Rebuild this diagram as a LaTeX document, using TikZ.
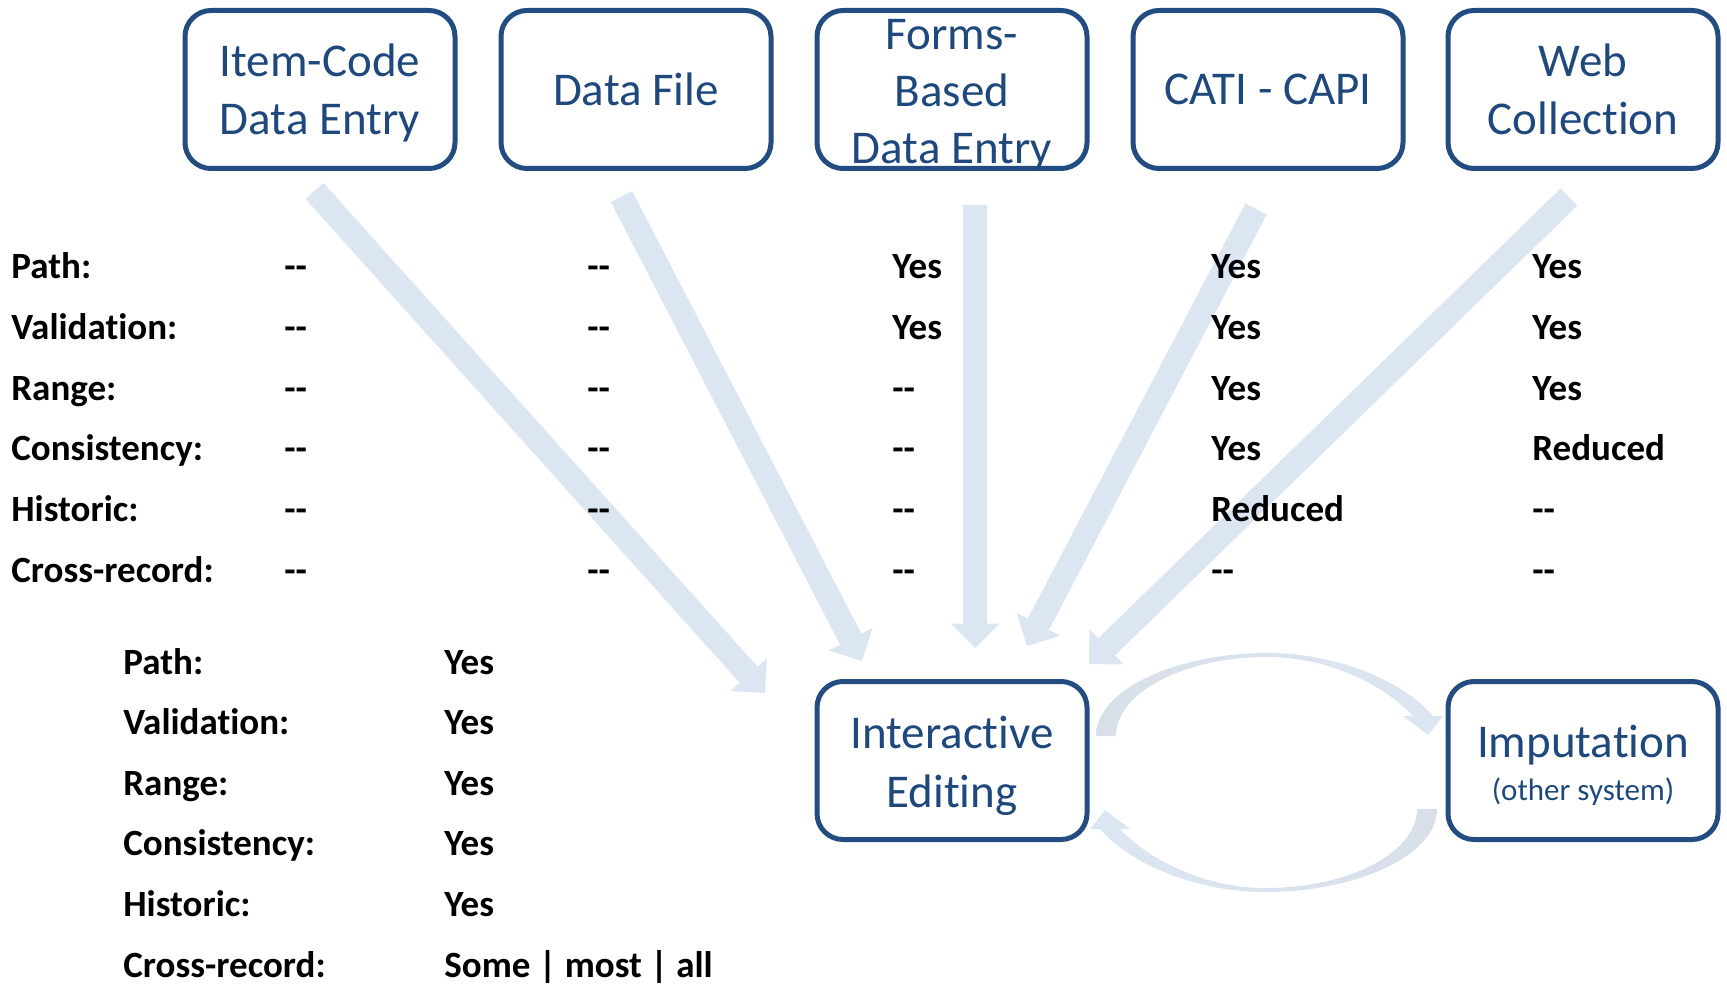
\documentclass[tikz,border=0pt]{standalone}
\usepackage{fontspec}
\setmainfont{Carlito}[Ligatures=NoCommon]
\usetikzlibrary{arrows.meta}
\definecolor{boxline}{HTML}{234C80}
\definecolor{boxtext}{HTML}{1F497D}
\definecolor{arrc}{HTML}{DCE6F2}
\definecolor{arrg}{HTML}{D8DFE9}
\newcommand\dd{\mbox{-}\mbox{-}}
\begin{document}
\begin{tikzpicture}[x=0.5pt,y=-0.5pt,
 srcbox/.style={draw=boxline, line width=2.5pt, rounded corners=13pt, fill=white,
   minimum width=135pt, minimum height=79pt, inner sep=0pt},
 boxlabel/.style={text=boxtext, font=\fontsize{23.5}{29.2}\selectfont, align=center, inner sep=0pt},
 lab/.style={anchor=base west, font=\bfseries\fontsize{18.5}{22}\selectfont, inner sep=0pt},
 bigarrow/.style={draw=arrc, line width=12pt,
   -{Triangle[width=24.5pt,length=12.25pt,line width=0pt]}},
 curvearrow/.style={left color=arrg, right color=arrc},
]
\useasboundingbox (0,0) rectangle (1727,984);

% curved arrows between editing and imputation
\shade[curvearrow] (1096,736) .. controls (1096,688) and (1180,653) .. (1267,653)
 .. controls (1340,653) and (1405,683) .. (1433,716)
 -- (1443,716) -- (1428,735) -- (1403,716) -- (1413,716)
 .. controls (1385,686) and (1330,657) .. (1267,657)
 .. controls (1185,657) and (1116,692) .. (1116,736) -- cycle;
\begin{scope}[rotate around={180:(1266.5,772.5)}]
\shade[left color=arrc, right color=arrg] (1096,736) .. controls (1096,688) and (1180,653) .. (1267,653)
 .. controls (1340,653) and (1405,683) .. (1433,716)
 -- (1443,716) -- (1428,735) -- (1403,716) -- (1413,716)
 .. controls (1385,686) and (1330,657) .. (1267,657)
 .. controls (1185,657) and (1116,692) .. (1116,736) -- cycle;
\end{scope}

% straight arrows
\coordinate (t1) at (314.5,191);  \coordinate (h1) at (765,693);
\coordinate (t2) at (621.5,196.5);\coordinate (h2) at (862,661);
\coordinate (t3) at (975,205);    \coordinate (h3) at (975,648);
\coordinate (t4) at (1256,209);   \coordinate (h4) at (1027,646);
\coordinate (t5) at (1569,197);   \coordinate (h5) at (1089,664);
\foreach \k in {1,...,5} \draw[bigarrow] (t\k) -- (h\k);

% boxes
\node[srcbox] (item) at (320,89.5) {};
\node[boxlabel, yshift=-1.65pt] (itemt) at (item.center) {Item-Code\\Data Entry};
\node[srcbox] (file) at (636,89.5) {};
\node[boxlabel] (filet) at (file.center) {Data File};
\node[srcbox] (forms) at (952,89.5) {};
\node[boxlabel, font=\fontsize{23.5}{28.6}\selectfont, yshift=-2.9pt] (formst) at (forms.center) {Forms-\\Based\\Data Entry};
\node[srcbox] (cati) at (1268,89.5) {};
\node[boxlabel] (catit) at (cati.center) {CATI - CAPI};
\node[srcbox] (web) at (1583,89.5) {};
\node[boxlabel] (webt) at (web.center) {Web\\Collection};
\node[srcbox] (edit) at (952,760.5) {};
\node[boxlabel, yshift=-2.6pt] (editt) at (edit.center) {Interactive\\Editing};
\node[srcbox] (imp) at (1583,760.5) {};
\node[boxlabel, anchor=base] (impt) at (1583,757) {Imputation};
\node[text=boxtext, font=\fontsize{15.5}{18}\selectfont, anchor=base, inner sep=0pt] (imps) at (1583,800) {(other system)};

% upper table
\foreach \t [count=\i from 0] in {Path:,Validation:,Range:,Consistency:,Historic:,Cross-record:}
  \node[lab] (rl\i) at (11,278.5+60.8*\i) {\t};
\foreach \v [count=\i from 0] in {\dd,\dd,\dd,\dd,\dd,\dd}
  \node[lab] (ca\i) at (284,278.5+60.8*\i) {\v};
\foreach \v [count=\i from 0] in {\dd,\dd,\dd,\dd,\dd,\dd}
  \node[lab] (cb\i) at (587,278.5+60.8*\i) {\v};
\foreach \v [count=\i from 0] in {Yes,Yes,\dd,\dd,\dd,\dd}
  \node[lab] (cc\i) at (892,278.5+60.8*\i) {\v};
\foreach \v [count=\i from 0] in {Yes,Yes,Yes,Yes,Reduced,\dd}
  \node[lab] (cd\i) at (1211,278.5+60.8*\i) {\v};
\foreach \v [count=\i from 0] in {Yes,Yes,Yes,Reduced,\dd,\dd}
  \node[lab] (ce\i) at (1532,278.5+60.8*\i) {\v};

% lower list
\foreach \t [count=\i from 0] in {Path:,Validation:,Range:,Consistency:,Historic:,Cross-record:}
  \node[lab] (bl\i) at (123,674+60.6*\i) {\t};
\foreach \v [count=\i from 0] in {Yes,Yes,Yes,Yes,Yes,Some | most | all}
  \node[lab] (bv\i) at (444,674+60.6*\i) {\v};
\end{tikzpicture}
\end{document}
